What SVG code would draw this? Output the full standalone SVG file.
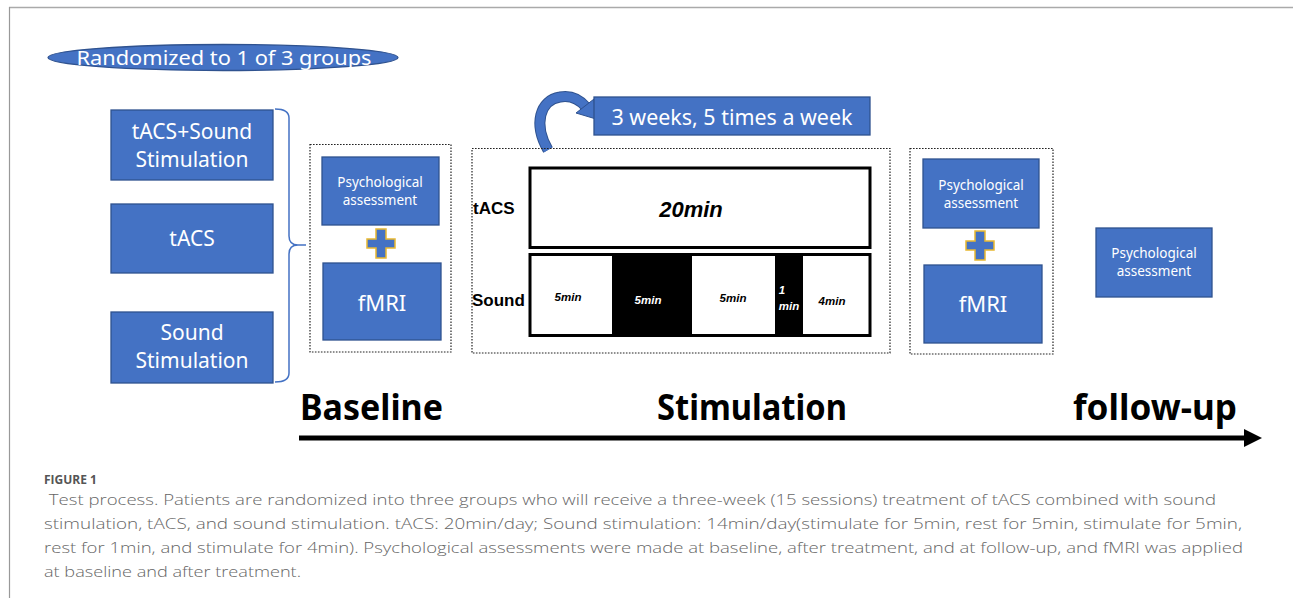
<svg xmlns="http://www.w3.org/2000/svg" width="1293" height="608" viewBox="0 0 1293 608">
<defs>
<style>
.box{fill:#4472C4;stroke:#2F528F;stroke-width:1.3}
.wt{fill:#fff;font-family:"Noto Sans","Open Sans",sans-serif;text-anchor:middle;dominant-baseline:central}
.dot{fill:none;stroke:#222;stroke-width:1.2;stroke-dasharray:1.6 1.4}
.plus{fill:#4472C4;stroke:#E8B830;stroke-width:1.5}
.bk{font-family:"Liberation Sans",Arial,sans-serif;font-weight:bold;fill:#000;dominant-baseline:central}
.bi{font-family:"Liberation Sans",Arial,sans-serif;font-weight:bold;font-style:italic;text-anchor:middle;dominant-baseline:central;font-size:11.5px}
.phase{font-family:"Noto Sans","Liberation Sans",sans-serif;font-weight:bold;font-size:35px;fill:#000}
.cap{font-family:"Open Sans","Noto Sans",sans-serif;font-size:15px;font-weight:300;fill:#666}
</style>
</defs>
<rect width="1293" height="608" fill="#fff"/>
<g id="frame">
<line x1="9" y1="7.5" x2="1293" y2="7.5" stroke="#aaa" stroke-width="1.5"/>
<line x1="9.5" y1="7" x2="9.5" y2="598" stroke="#999" stroke-width="1.2"/>
</g>

<g id="randomized">
<ellipse cx="223" cy="57.5" rx="175" ry="13" class="box"/>
<text x="224" y="57" class="wt" font-size="20.5" textLength="295" lengthAdjust="spacingAndGlyphs">Randomized to 1 of 3 groups</text>
</g>

<g id="group-tacs-sound">
<rect x="111" y="110" width="162" height="70" class="box"/>
<text x="192" y="131" class="wt" font-size="21">tACS+Sound</text>
<text x="192" y="159" class="wt" font-size="21">Stimulation</text>
</g>
<g id="group-tacs">
<rect x="111" y="204" width="162" height="69" class="box"/>
<text x="192" y="238" class="wt" font-size="21">tACS</text>
</g>
<g id="group-sound">
<rect x="111" y="312" width="162" height="71" class="box"/>
<text x="192" y="332" class="wt" font-size="21">Sound</text>
<text x="192" y="360" class="wt" font-size="21">Stimulation</text>
</g>

<g id="connectors">
<path d="M275,109 Q289,109 289,118 L289,236 Q289,245 298,245 L306,245 M298,245 Q289,245 289,254 L289,373 Q289,382 275,382" fill="none" stroke="#4472C4" stroke-width="1.5"/>
<path d="M548,150 C533,124 540,100 560,97 C571,95 580,100 586,107" fill="none" stroke="#2F528F" stroke-width="11"/>
<path d="M548,150 C533,124 540,100 560,97 C571,95 580,100 586,107" fill="none" stroke="#4472C4" stroke-width="9"/>
<polygon points="576,113 594,99 596,119" fill="#4472C4" stroke="#2F528F" stroke-width="1"/>
<line x1="299" y1="438" x2="1246" y2="438" stroke="#000" stroke-width="5"/>
<polygon points="1244,429 1262,438 1244,447" fill="#000"/>
</g>

<g id="baseline">
<rect x="310" y="144.5" width="141" height="207.5" class="dot"/>
<g id="baseline-psych">
<rect x="322" y="157" width="117" height="68" class="box"/>
<text x="380" y="182" class="wt" font-size="13.5">Psychological</text>
<text x="380" y="200" class="wt" font-size="13.5">assessment</text>
</g>
<path class="plus" d="M376,229 h10 v10 h9 v9 h-9 v10 h-10 v-10 h-9 v-9 h9 z"/>
<g id="baseline-fmri">
<rect x="323" y="263" width="118" height="77" class="box"/>
<text x="382" y="302" class="wt" font-size="22">fMRI</text>
</g>
</g>

<g id="stimulation">
<rect x="472" y="148.5" width="418" height="204.5" class="dot"/>
<g id="schedule">
<rect x="594" y="97" width="276" height="38" class="box"/>
<text x="732" y="116.5" class="wt" font-size="21" textLength="241" lengthAdjust="spacingAndGlyphs">3 weeks, 5 times a week</text>
</g>
<text x="473" y="208" class="bk" font-size="17">tACS</text>
<text x="472" y="300" class="bk" font-size="17">Sound</text>
<rect x="530" y="168" width="340" height="79.5" fill="#fff" stroke="#000" stroke-width="3"/>
<text x="691" y="209" class="bi" style="font-size:22px">20min</text>
<rect x="530" y="254.5" width="340" height="81" fill="#fff" stroke="#000" stroke-width="3"/>
<rect x="612" y="254.5" width="80" height="81" fill="#000"/>
<rect x="775" y="254.5" width="28" height="81" fill="#000"/>
<text x="568" y="297" class="bi" fill="#000">5min</text>
<text x="648" y="300" class="bi" fill="#fff">5min</text>
<text x="733" y="298" class="bi" fill="#000">5min</text>
<text x="782" y="290" class="bi" fill="#fff">1</text>
<text x="789" y="306" class="bi" fill="#fff">min</text>
<text x="832" y="301" class="bi" fill="#000">4min</text>
</g>

<g id="post">
<rect x="910" y="148.5" width="143" height="205.5" class="dot"/>
<g id="post-psych">
<rect x="923" y="159" width="116" height="69" class="box"/>
<text x="981" y="185" class="wt" font-size="13.5">Psychological</text>
<text x="981" y="203" class="wt" font-size="13.5">assessment</text>
</g>
<path class="plus" d="M975,231 h10 v10 h9 v9 h-9 v10 h-10 v-10 h-9 v-9 h9 z"/>
<g id="post-fmri">
<rect x="924" y="265" width="118" height="78" class="box"/>
<text x="983" y="303" class="wt" font-size="22">fMRI</text>
</g>
</g>

<g id="followup">
<rect x="1096" y="228" width="116" height="69" class="box"/>
<text x="1154" y="253" class="wt" font-size="13.5">Psychological</text>
<text x="1154" y="271" class="wt" font-size="13.5">assessment</text>
</g>

<g id="phases">
<text x="300" y="420" class="phase" textLength="143" lengthAdjust="spacingAndGlyphs">Baseline</text>
<text x="657" y="420" class="phase" textLength="190" lengthAdjust="spacingAndGlyphs">Stimulation</text>
<text x="1073" y="420" class="phase" textLength="164" lengthAdjust="spacingAndGlyphs">follow-up</text>
</g>

<g id="caption">
<text x="44" y="484" font-family="'Open Sans','Noto Sans',sans-serif" font-size="12" font-weight="bold" fill="#555">FIGURE 1</text>
<text x="44" y="505" class="cap" textLength="1172" lengthAdjust="spacingAndGlyphs" xml:space="preserve"> Test process. Patients are randomized into three groups who will receive a three-week (15 sessions) treatment of tACS combined with sound</text>
<text x="44" y="529" class="cap" textLength="1198" lengthAdjust="spacingAndGlyphs">stimulation, tACS, and sound stimulation. tACS: 20min/day; Sound stimulation: 14min/day(stimulate for 5min, rest for 5min, stimulate for 5min,</text>
<text x="44" y="553" class="cap" textLength="1199" lengthAdjust="spacingAndGlyphs">rest for 1min, and stimulate for 4min). Psychological assessments were made at baseline, after treatment, and at follow-up, and fMRI was applied</text>
<text x="44" y="577" class="cap" textLength="257" lengthAdjust="spacingAndGlyphs">at baseline and after treatment.</text>
</g>
</svg>
